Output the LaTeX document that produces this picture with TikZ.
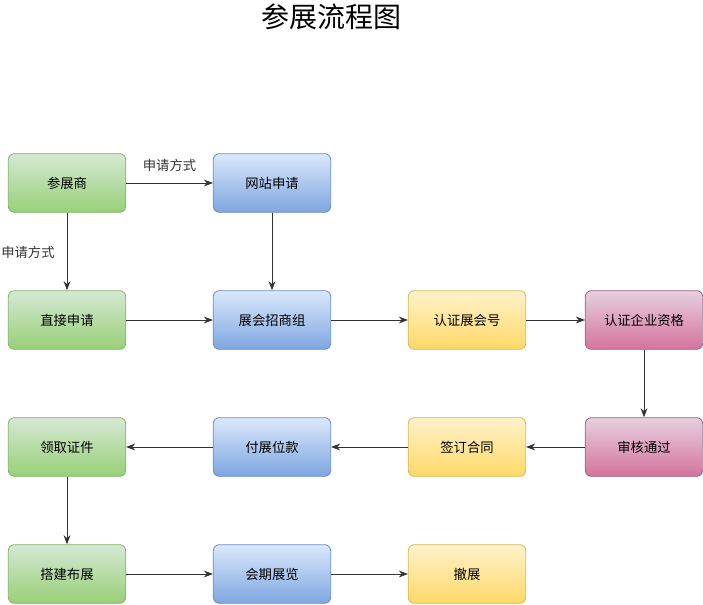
\documentclass[tikz,border=0pt]{standalone}
\usepackage{fontspec}
\setmainfont{Noto Sans CJK SC}
\usepackage{tikz}
\usetikzlibrary{arrows.meta,positioning}
\definecolor{gruenh}{HTML}{D5E8D4}
\definecolor{gruen}{HTML}{97D077}
\definecolor{gruenr}{HTML}{82B366}
\definecolor{blauh}{HTML}{DAE8FC}
\definecolor{blau}{HTML}{7EA6E0}
\definecolor{blaur}{HTML}{6C8EBF}
\definecolor{gelbh}{HTML}{FFF2CC}
\definecolor{gelb}{HTML}{FFD966}
\definecolor{gelbr}{HTML}{D6B656}
\definecolor{rosah}{HTML}{E6D0DE}
\definecolor{rosa}{HTML}{D5739D}
\definecolor{rosar}{HTML}{996185}
\definecolor{linie}{HTML}{333333}
\tikzset{
  kasten/.style={rectangle,rounded corners=4.5pt,line width=0.6pt,
    minimum width=88pt,minimum height=44pt,inner sep=0pt,
    font=\fontsize{10}{12}\selectfont},
  kgruen/.style={kasten,draw=gruenr,top color=gruenh,bottom color=gruen},
  kblau/.style={kasten,draw=blaur,top color=blauh,bottom color=blau},
  kgelb/.style={kasten,draw=gelbr,top color=gelbh,bottom color=gelb},
  krosa/.style={kasten,draw=rosar,top color=rosah,bottom color=rosa},
  pfeil/.style={-{Stealth[length=2.4mm,width=1.8mm]},linie,line width=0.6pt},
  beschr/.style={font=\fontsize{10}{12}\selectfont,inner sep=1pt},
}
\begin{document}
\begin{tikzpicture}[x=0.75pt,y=-0.75pt]
  \useasboundingbox (0,0) rectangle (703,604);
  \node[font=\fontsize{21}{25}\selectfont] (titel) at (331,17) {参展流程图};
  % erste Zeile
  \node[kgruen] (aussteller) at (67,183) {参展商};
  \node[kblau] (web) at (272,183) {网站申请};
  % zweite Zeile
  \node[kgruen] (direkt) at (67,320) {直接申请};
  \node[kblau] (gruppe) at (272,320) {展会招商组};
  \node[kgelb] (nummer) at (467,320) {认证展会号};
  \node[krosa] (pruefung) at (644,320) {认证企业资格};
  % dritte Zeile
  \node[kgruen] (ausweis) at (67,447) {领取证件};
  \node[kblau] (zahlung) at (272,447) {付展位款};
  \node[kgelb] (vertrag) at (467,447) {签订合同};
  \node[krosa] (bestanden) at (644,447) {审核通过};
  % vierte Zeile
  \node[kgruen] (aufbau) at (67,574) {搭建布展};
  \node[kblau] (messe) at (272,574) {会期展览};
  \node[kgelb] (abbau) at (467,574) {撤展};
  % Verbindungen
  \draw[pfeil] (aussteller) -- (web)
    node[beschr,midway,above=7pt] {申请方式};
  \draw[pfeil] (aussteller) -- (direkt)
    node[beschr,midway,left=8pt,yshift=-1pt] {申请方式};
  \draw[pfeil] (web) -- (gruppe);
  \draw[pfeil] (direkt) -- (gruppe);
  \draw[pfeil] (gruppe) -- (nummer);
  \draw[pfeil] (nummer) -- (pruefung);
  \draw[pfeil] (pruefung) -- (bestanden);
  \draw[pfeil] (bestanden) -- (vertrag);
  \draw[pfeil] (vertrag) -- (zahlung);
  \draw[pfeil] (zahlung) -- (ausweis);
  \draw[pfeil] (ausweis) -- (aufbau);
  \draw[pfeil] (aufbau) -- (messe);
  \draw[pfeil] (messe) -- (abbau);
\end{tikzpicture}
\end{document}
